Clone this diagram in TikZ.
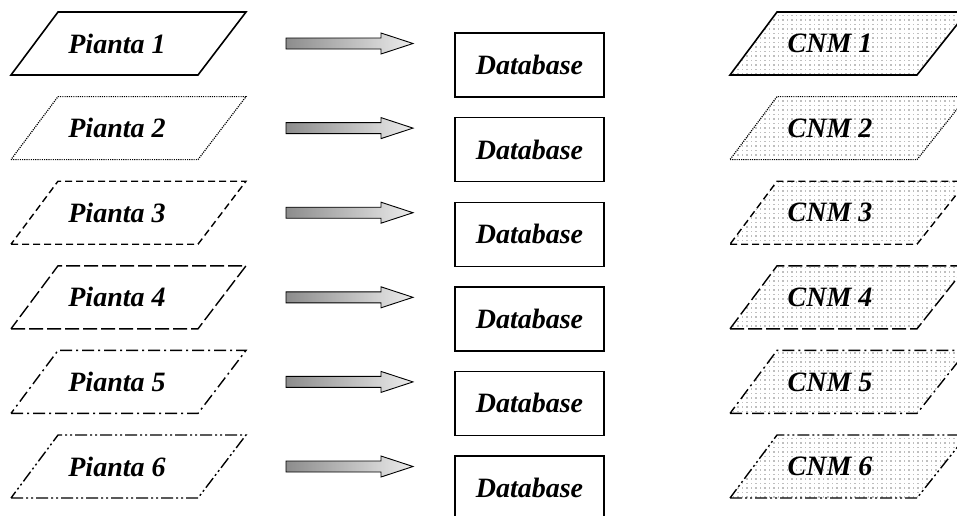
\documentclass[tikz,border=0pt]{standalone}
\usepackage{fontspec}
\setmainfont{Liberation Serif}
\usetikzlibrary{patterns}
\pgfdeclarepatternformonly{mydots}{\pgfqpoint{-1pt}{-1pt}}{\pgfqpoint{1pt}{1pt}}{\pgfqpoint{4.5pt}{4.5pt}}{%
  \pgfpathrectangle{\pgfqpoint{-0.6pt}{-0.6pt}}{\pgfqpoint{1.2pt}{1.2pt}}\pgfusepath{fill}}
\tikzset{
  cnmfill/.style={pattern=mydots, pattern color=gray!50},
  lbl/.style={font=\fontsize{28}{32}\selectfont\bfseries\itshape, inner sep=0pt},
  blockarrow/.style={draw=black, line width=0.9pt, left color=gray!90, right color=gray!15},
  dbbox/.style={rectangle, draw=black, line width=1.4pt, minimum width=149pt, minimum height=64pt,
    inner sep=0pt, font=\fontsize{28}{32}\selectfont\bfseries\itshape},
  lnA/.style={line width=1.6pt},
  lnB/.style={line width=1.2pt, dash pattern=on 1.1pt off 1.1pt},
  lnC/.style={line width=1.4pt, dash pattern=on 7pt off 4pt},
  lnD/.style={line width=1.4pt, dash pattern=on 14pt off 4pt},
  lnE/.style={line width=1.4pt, dash pattern=on 12pt off 4pt on 2pt off 4pt},
  lnF/.style={line width=1.4pt, dash pattern=on 12pt off 3pt on 2pt off 3pt on 2pt off 3pt},
}
\newcommand\myrow[3]{%
  % Pianta parallelogram
  \coordinate (p#1bl) at (11,#2+31.5);
  \coordinate (p#1br) at (198,#2+31.5);
  \coordinate (p#1tr) at (246,#2-31.5);
  \coordinate (p#1tl) at (58,#2-31.5);
  \draw[#3, line join=miter] (p#1bl) -- (p#1br) -- (p#1tr) -- (p#1tl) -- cycle;
  \node[lbl] (pt#1) at (117,#2) {Pianta #1};
  % block arrow
  \shadedraw[blockarrow] (286,#2-5.5) -- (381,#2-5.5) -- (381,#2-10.5) -- (413,#2)
     -- (381,#2+10.5) -- (381,#2+5.5) -- (286,#2+5.5) -- cycle;
  % database
  \node[dbbox] (d#1) at (529.5,#2+21.5) {Database};
  % CNM parallelogram
  \coordinate (c#1bl) at (730,#2+31.5);
  \coordinate (c#1br) at (917,#2+31.5);
  \coordinate (c#1tr) at (967,#2-31.5);
  \coordinate (c#1tl) at (777,#2-31.5);
  \path[cnmfill] (c#1bl) -- (c#1br) -- (c#1tr) -- (c#1tl) -- cycle;
  \draw[#3, line join=miter] (c#1bl) -- (c#1br) -- (c#1tr) -- (c#1tl) -- cycle;
  \node[lbl] (ct#1) at (830,#2) {CNM #1};
}
\begin{document}
\begin{tikzpicture}[x=1pt,y=-1pt]
  \useasboundingbox (0,0) rectangle (957,515);
  \clip (0,0) rectangle (957,515);
  \myrow{1}{43.5}{lnA}
  \myrow{2}{128.1}{lnB}
  \myrow{3}{212.7}{lnC}
  \myrow{4}{297.3}{lnD}
  \myrow{5}{381.9}{lnE}
  \myrow{6}{466.5}{lnF}
\end{tikzpicture}
\end{document}
